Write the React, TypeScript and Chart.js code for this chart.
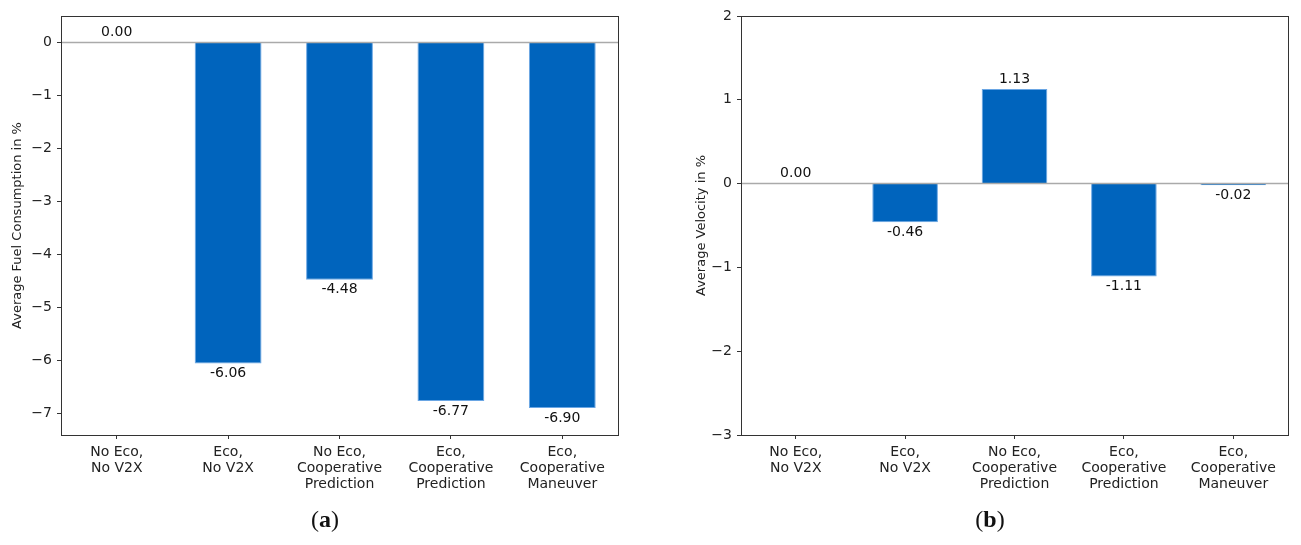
import React, { useEffect, useRef } from "react";
import { Chart, registerables } from "chart.js";

Chart.register(...registerables);

const categories: string[][] = [
  ["No Eco,", "No V2X"],
  ["Eco,", "No V2X"],
  ["No Eco,", "Cooperative", "Prediction"],
  ["Eco,", "Cooperative", "Prediction"],
  ["Eco,", "Cooperative", "Maneuver"],
];
const fuelValues = [0.0, -6.06, -4.48, -6.77, -6.9];
const velocityValues = [0.0, -0.46, 1.13, -1.11, -0.02];
const fuelTitle = "Average Fuel Consumption in %";
const velocityTitle = "Average Velocity in %";

const FONT = "'DejaVu Sans', sans-serif";

const framePlugin = {
  id: "frame",
  afterDatasetsDraw(chart: any) {
    const { ctx, chartArea, scales } = chart;
    const y0 = scales.y.getPixelForValue(0);
    ctx.save();
    ctx.strokeStyle = "#aaaaaa";
    ctx.lineWidth = 1.5;
    ctx.beginPath();
    ctx.moveTo(chartArea.left, y0);
    ctx.lineTo(chartArea.right, y0);
    ctx.stroke();
    ctx.strokeStyle = "#333333";
    ctx.lineWidth = 1;
    ctx.strokeRect(
      Math.round(chartArea.left) + 0.5,
      Math.round(chartArea.top) + 0.5,
      Math.round(chartArea.right - chartArea.left),
      Math.round(chartArea.bottom - chartArea.top)
    );
    // value labels
    const meta = chart.getDatasetMeta(0);
    const data = chart.data.datasets[0].data as number[];
    ctx.fillStyle = "#111111";
    ctx.font = `14px ${FONT}`;
    ctx.textAlign = "center";
    meta.data.forEach((bar: any, i: number) => {
      const v = data[i];
      const txt = v.toFixed(2);
      if (v < 0) {
        ctx.textBaseline = "top";
        ctx.fillText(txt, bar.x, bar.y + 3);
      } else {
        ctx.textBaseline = "bottom";
        ctx.fillText(txt, bar.x, bar.y - 3);
      }
    });
    ctx.restore();
  },
};

function makeConfig(
  values: number[],
  title: string,
  yMin: number,
  yMax: number,
  padLeft: number,
  yWidth: number,
  padRight: number,
  titlePad: number
): any {
  return {
    type: "bar",
    data: {
      labels: categories,
      datasets: [
        {
          data: values,
          backgroundColor: "#0064bd",
          borderColor: "#6aa6e4",
          borderWidth: 1,
          barPercentage: 0.6,
          categoryPercentage: 1.0,
        },
      ],
    },
    plugins: [framePlugin],
    options: {
      animation: false,
      responsive: false,
      maintainAspectRatio: false,
      layout: { padding: { top: 16, left: padLeft, right: padRight, bottom: 0 } },
      plugins: { legend: { display: false }, tooltip: { enabled: false } },
      scales: {
        x: {
          border: { display: false },
          grid: {
            offset: false,
            drawOnChartArea: false,
            drawTicks: true,
            tickLength: 4,
            color: "#333333",
          },
          ticks: {
            color: "#222222",
            font: { family: FONT, size: 14, lineHeight: 1.15 },
            padding: 5,
            maxRotation: 0,
            minRotation: 0,
            autoSkip: false,
          },
          afterFit(scale: any) {
            scale.height = 110;
          },
        },
        y: {
          min: yMin,
          max: yMax,
          border: { display: false },
          grid: {
            drawOnChartArea: false,
            drawTicks: true,
            tickLength: 4,
            color: "#333333",
          },
          ticks: {
            stepSize: 1,
            includeBounds: false,
            color: "#222222",
            font: { family: FONT, size: 14 },
            padding: 5,
            callback: (v: number) => (v < 0 ? "\u2212" + Math.abs(v) : String(v)),
          },
          title: {
            display: true,
            text: title,
            color: "#222222",
            font: { family: FONT, size: 13 },
            padding: { top: titlePad, bottom: 0 },
          },
          afterFit(scale: any) {
            scale.width = yWidth;
          },
        },
      },
    },
  };
}

function BarChart({ config, width, height }: { config: any; width: number; height: number }) {
  const ref = useRef<HTMLCanvasElement | null>(null);
  useEffect(() => {
    if (!ref.current) return;
    const chart = new Chart(ref.current, config);
    return () => chart.destroy();
  }, [config]);
  return <canvas ref={ref} width={width} height={height} style={{ display: "block", width, height }} />;
}

const leftConfig = makeConfig(fuelValues, fuelTitle, -7.41, 0.5, 0, 61, 32, 10);
const rightConfig = makeConfig(velocityValues, velocityTitle, -3, 2, 40, 51, 13, 4);

const captionStyle: React.CSSProperties = {
  position: "absolute",
  top: 506,
  fontFamily: "'Liberation Serif', 'DejaVu Serif', serif",
  fontSize: 24,
  color: "#111",
  width: 100,
  textAlign: "center",
};

export default function App() {
  return (
    <div
      style={{
        position: "fixed",
        left: 0,
        top: 0,
        width: 1301,
        height: 545,
        background: "#ffffff",
        overflow: "hidden",
      }}
    >
      <div style={{ position: "absolute", left: 0, top: 0 }}>
        <BarChart config={leftConfig} width={650} height={545} />
      </div>
      <div style={{ position: "absolute", left: 650, top: 0 }}>
        <BarChart config={rightConfig} width={651} height={545} />
      </div>
      <div style={{ ...captionStyle, left: 275 }}>
        (<b>a</b>)
      </div>
      <div style={{ ...captionStyle, left: 940 }}>
        (<b>b</b>)
      </div>
    </div>
  );
}
